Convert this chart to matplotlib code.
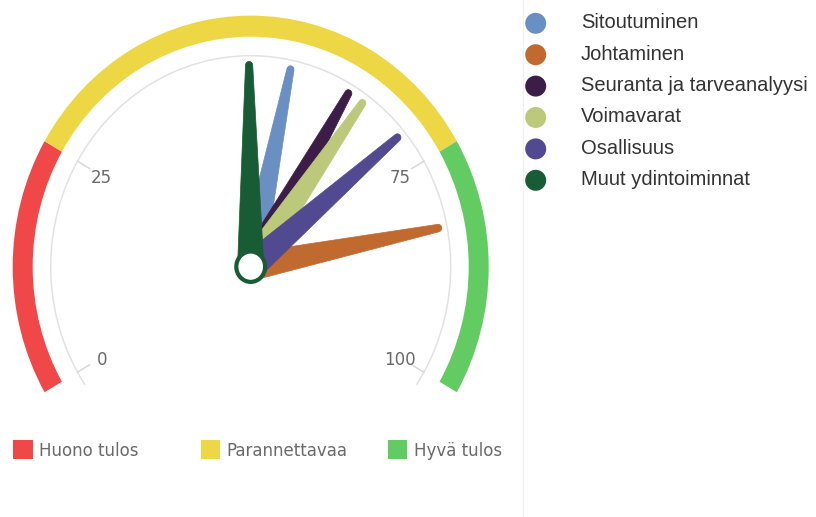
import numpy as np
import matplotlib
matplotlib.use("Agg")
import matplotlib.pyplot as plt
from matplotlib.patches import Wedge, Arc, Circle, Polygon, Rectangle

# Dial series (drawn in this order, last on top)
series_names = ["Sitoutuminen", "Johtaminen", "Seuranta ja tarveanalyysi",
                "Voimavarat", "Osallisuus", "Muut ydintoiminnat"]
series_values = [55.0, 82.9, 62.8, 64.9, 70.9, 49.8]
series_colors = ["#6a8fc2", "#c06a30", "#3b1d48", "#bcc87a", "#524a90", "#175c34"]

# Plot bands
band_names = ["Huono tulos", "Parannettavaa", "Hyvä tulos"]
band_from = [0, 25, 75]
band_to = [25, 75, 100]
band_colors = ["#f04848", "#eed745", "#62cc62"]

# Axis ticks
tick_values = [0, 25, 75, 100]
tick_labels = ["0", "25", "75", "100"]

SCALE_MIN, SCALE_MAX = 0, 100
START_ANGLE, END_ANGLE = -120, 120


def to_angle(v):
    """Value -> angle in degrees, measured clockwise from straight up."""
    return START_ANGLE + (v - SCALE_MIN) / (SCALE_MAX - SCALE_MIN) * (END_ANGLE - START_ANGLE)


def polar(r, ang_deg):
    a = np.radians(ang_deg)
    return r * np.sin(a), r * np.cos(a)


def needle_polygon(value, length=0.955, base_half=0.066, top_half=0.018):
    ang = np.radians(to_angle(value))
    d = np.array([np.sin(ang), np.cos(ang)])
    p = np.array([np.cos(ang), -np.sin(ang)])
    pts = [(0.0, -base_half), (length, -top_half)]
    for t in np.linspace(-np.pi / 2, np.pi / 2, 15)[1:-1]:
        pts.append((length + top_half * np.cos(t), top_half * np.sin(t)))
    pts += [(length, top_half), (0.0, base_half)]
    return np.array([u * d + w * p for u, w in pts])


W, H = 816, 517
fig = plt.figure(figsize=(W / 100, H / 100), dpi=100)
fig.patch.set_facecolor("white")

# Pixel-space layer for the legends and the separator line
bg = fig.add_axes([0, 0, 1, 1])
bg.set_xlim(0, W)
bg.set_ylim(H, 0)
bg.axis("off")

# Gauge axes (unit radius = gray axis line)
cx, cy = 250.7, 266.7
sx, sy = 200.0, 211.0
x0, x1 = -1.25, 1.25
y0, y1 = -0.75, 1.25
left_px, right_px = cx + x0 * sx, cx + x1 * sx
top_px, bottom_px = cy - y1 * sy, cy - y0 * sy
ax = fig.add_axes([left_px / W, 1 - bottom_px / H,
                   (right_px - left_px) / W, (bottom_px - top_px) / H])
ax.set_xlim(x0, x1)
ax.set_ylim(y0, y1)
ax.axis("off")
ax.patch.set_alpha(0)

# Colored bands
for a, b, c in zip(band_from, band_to, band_colors):
    ax.add_patch(Wedge((0, 0), 1.19, 90 - to_angle(b), 90 - to_angle(a),
                       width=0.10, facecolor=c, edgecolor="none", zorder=1))

# Axis line
ax.add_patch(Arc((0, 0), 2, 2, theta1=90 - 124, theta2=90 + 124,
                 color="#e2e2e2", lw=1.1, zorder=1))

# Ticks and labels
for v, lab in zip(tick_values, tick_labels):
    a = to_angle(v)
    xa, ya = polar(1.0, a)
    xb, yb = polar(0.93, a)
    ax.plot([xa, xb], [ya, yb], color="#d9d9d9", lw=1.1, zorder=1)
    xl, yl = polar(0.86, a)
    ax.text(xl, yl - 0.01, lab, ha="center", va="center", fontsize=12,
            color="#6a6a6a", family="DejaVu Sans", zorder=2)

# Needles
for i, (v, c) in enumerate(zip(series_values, series_colors)):
    ax.add_patch(Polygon(needle_polygon(v), closed=True, facecolor=c,
                         edgecolor=c, lw=0.5, zorder=3 + i))

# Pivot
ax.add_patch(Circle((0, 0), 0.072, facecolor="white",
                    edgecolor=series_colors[-1], lw=3.0, zorder=20))

# Right legend
leg_x, leg_y0, leg_dy = 535.7, 23.3, 31.4
for i, (name, c) in enumerate(zip(series_names, series_colors)):
    y = leg_y0 + i * leg_dy
    bg.scatter([leg_x], [y], s=228, color=c, edgecolors="none")
    bg.text(581, y + 5.0, name, ha="left", va="baseline",
            family="Liberation Sans", fontsize=14.5, color="#333333")

# Separator
bg.plot([523, 523], [0, H], color="#f1f1f1", lw=1)

# Bottom legend for the bands
sq_x0, sq_dx, sq_y, sq = 13.3, 187.2, 439.5, 19.2
for i, (name, c) in enumerate(zip(band_names, band_colors)):
    x = sq_x0 + i * sq_dx
    bg.add_patch(Rectangle((x, sq_y), sq, sq, facecolor=c, edgecolor="none"))
    bg.text(x + 26, 455.7, name, ha="left", va="baseline",
            family="DejaVu Sans", fontsize=12, color="#6a6a6a")

fig.savefig("out.png", dpi=100)
